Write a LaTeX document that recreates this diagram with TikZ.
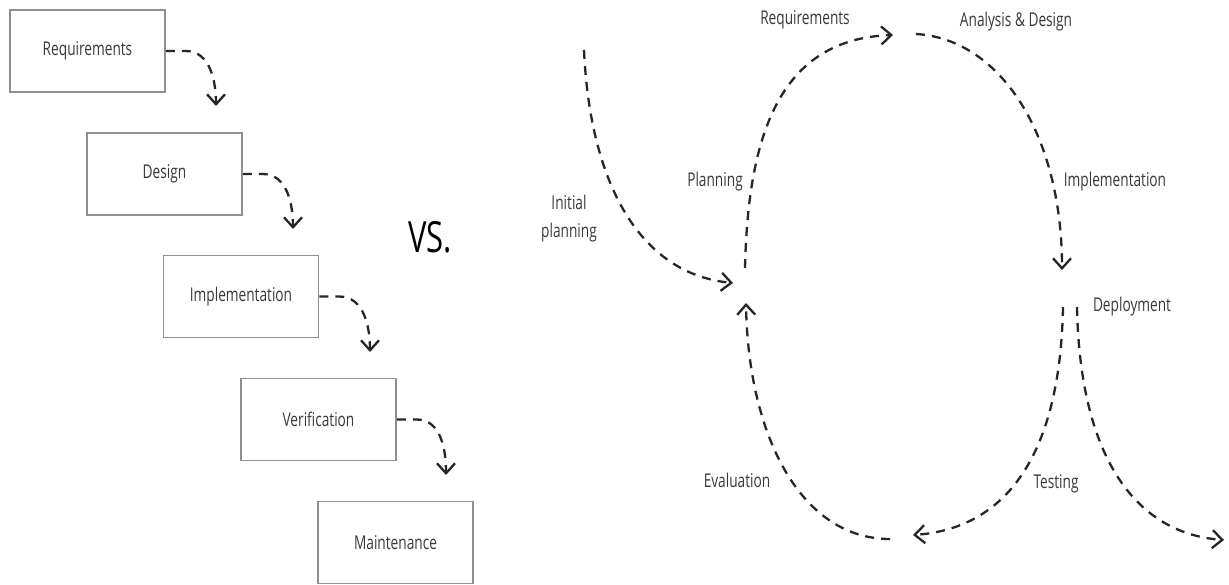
\documentclass[tikz,border=0pt]{standalone}
\usepackage{fontspec}
\setmainfont{Open Sans}
\usepackage{graphicx}
\usetikzlibrary{arrows.meta}
\definecolor{SDText}{HTML}{383838}
\definecolor{SDLine}{HTML}{262626}
\definecolor{SDBox}{HTML}{8F8F8F}
\newcommand{\sqz}[1]{\scalebox{0.72}[1]{#1}}

\begin{document}
\begin{tikzpicture}[x=0.5pt,y=0.5pt,
  stage/.style={draw=SDBox,line width=.75pt,minimum width=77.5pt,minimum height=41pt,inner sep=0pt,font=\fontsize{9.5}{11}\selectfont,text=SDText},
  lbl/.style={font=\fontsize{9.5}{14}\selectfont,text=SDText,inner sep=0pt,align=center},
  flow/.style={draw=SDLine,line width=1.15pt,dash pattern=on 4.5pt off 3.5pt,-{Straight Barb[length=5pt,width=9pt]}}]
\path[use as bounding box] (0,0) rectangle (1229,584);
% waterfall
\node[stage] (req) at (87.5,533) {\sqz{Requirements}};
\node[stage] (des) at (164.5,410) {\sqz{Design}};
\node[stage] (imp) at (241,287.5) {\sqz{Implementation}};
\node[stage] (ver) at (318.5,164.5) {\sqz{Verification}};
\node[stage] (mai) at (395.5,41.5) {\sqz{Maintenance}};
\coordinate (req-end) at (216,478);
\coordinate (des-end) at (293,355);
\coordinate (imp-end) at (370,232);
\coordinate (ver-end) at (446,109);
\draw[flow] (req.east) -- ++(20,0) to[out=0,in=90] (req-end);
\draw[flow] (des.east) -- ++(20,0) to[out=0,in=90] (des-end);
\draw[flow] (imp.east) -- ++(20,0) to[out=0,in=90] (imp-end);
\draw[flow] (ver.east) -- ++(20,0) to[out=0,in=90] (ver-end);
\node[font=\fontsize{21.5}{24}\selectfont] (vs) at (430,347) {\sqz{VS.}};
% iterative cycle
\coordinate (init-start) at (584,534);
\coordinate (hub-in) at (733,301);
\coordinate (hub-out) at (745,316);
\coordinate (hub-back) at (746,281);
\coordinate (req-in) at (893,549);
\coordinate (ad-out) at (916,550);
\coordinate (impl-in) at (1062,314);
\coordinate (dep-l) at (1063,277);
\coordinate (dep-r) at (1077,277);
\coordinate (test-in) at (913,49);
\coordinate (eval-out) at (890,45);
\coordinate (exit) at (1224,44);
\draw[flow] (init-start) .. controls (590,400) and (640,310) .. (hub-in);
\draw[flow] (hub-out) .. controls (748,450) and (780,545) .. (req-in);
\draw[flow] (ad-out) .. controls (1000,545) and (1062,450) .. (impl-in);
\draw[flow] (dep-l) .. controls (1060,120) and (1000,55) .. (test-in);
\draw[flow] (dep-r) .. controls (1080,120) and (1140,50) .. (exit);
\draw[flow] (eval-out) .. controls (800,45) and (748,150) .. (hub-back);
\node[lbl] (l-init) at (569,365) {\sqz{Initial}\\\sqz{planning}};
\node[lbl] (l-plan) at (715,402) {\sqz{Planning}};
\node[lbl] (l-req) at (805,564) {\sqz{Requirements}};
\node[lbl] (l-ad) at (1016,562) {\sqz{Analysis \& Design}};
\node[lbl] (l-impl) at (1115,402) {\sqz{Implementation}};
\node[lbl] (l-dep) at (1132,277) {\sqz{Deployment}};
\node[lbl] (l-test) at (1056,100) {\sqz{Testing}};
\node[lbl] (l-eval) at (737,104) {\sqz{Evaluation}};
\end{tikzpicture}
\end{document}
